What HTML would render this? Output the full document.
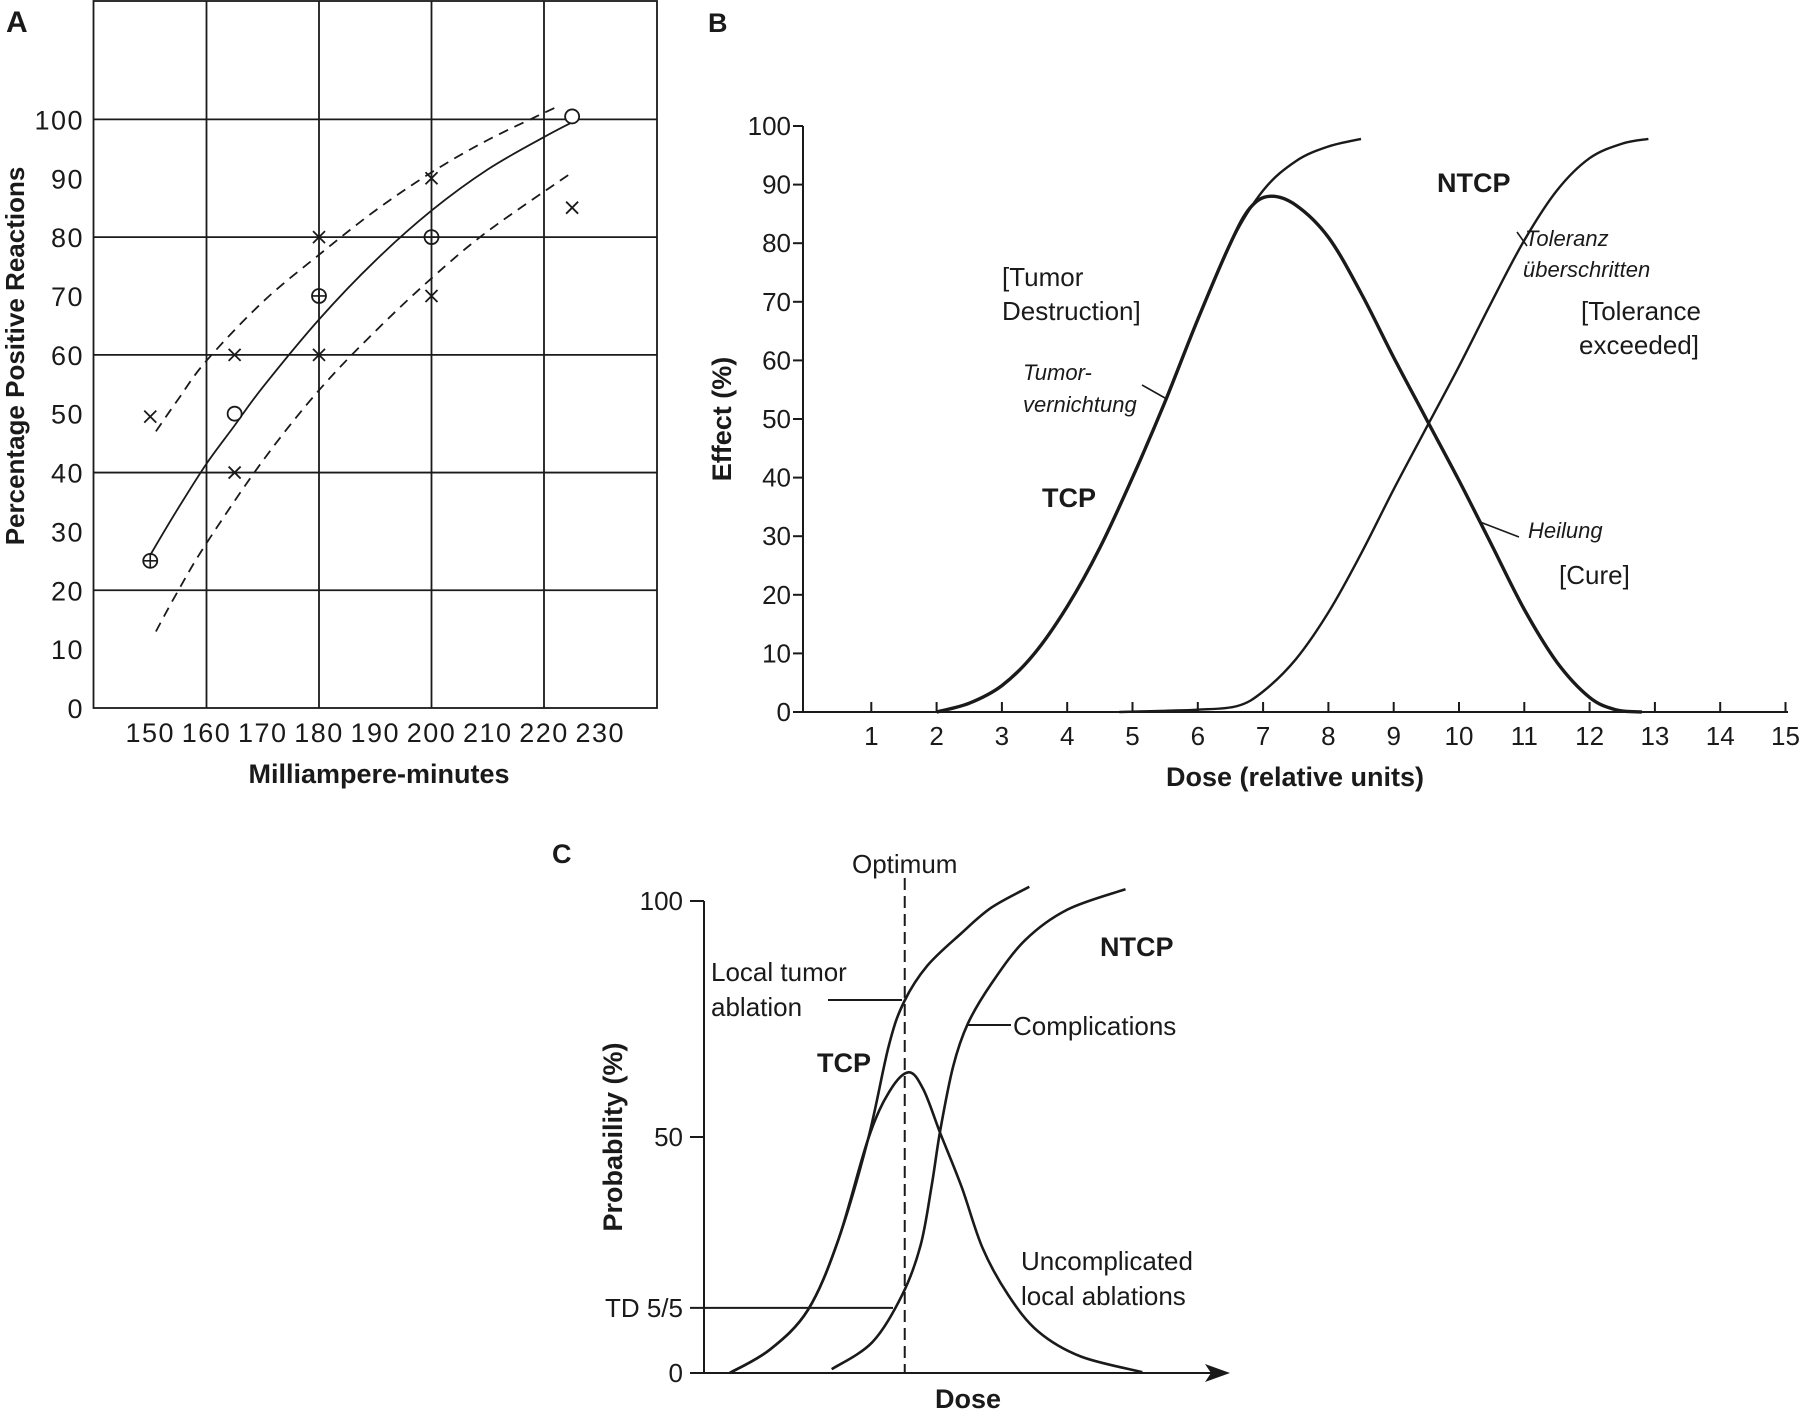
<!DOCTYPE html>
<html><head><meta charset="utf-8"><style>
html,body{margin:0;padding:0;background:#fff;}
svg{display:block;}
text{fill:#1a1a1a;}
.a{font-family:"Liberation Sans",sans-serif;font-size:27px;letter-spacing:1.5px;}
.n{font-family:"Liberation Sans Narrow","Liberation Sans",sans-serif;font-size:26px;}
.nb{font-family:"Liberation Sans Narrow","Liberation Sans",sans-serif;font-size:27px;font-weight:bold;}
.it{font-family:"Liberation Sans Narrow","Liberation Sans",sans-serif;font-size:22px;font-style:italic;}
.b{font-family:"Liberation Sans",sans-serif;font-weight:bold;}
</style></head><body>
<svg id="fig" width="1800" height="1410" viewBox="0 0 1800 1410" xmlns="http://www.w3.org/2000/svg">
<g id="pa"></g>
<g id="pb"></g>
<g id="pc"></g>
</svg>
<script>
// ---------- Panel A data ----------
const aXTicks = [150,160,170,180,190,200,210,220,230];
const aYTicks = [0,10,20,30,40,50,60,70,80,90,100];
const aCrossX = [150,165,165,180,180,200,200,225];
const aCrossY = [49.5,60,40,80,60,90,70,85];
const aPlusX = [150,180,200];
const aPlusY = [25,70,80];
const aCircX = [165,225];
const aCircY = [50,100.5];
const aFitX = [150,155,160,165,170,180,190,200,210,220,225];
const aFitY = [26,34,41.5,48,54.5,66,76,84.5,91.5,97,99.5];
const aUpX = [151,155,160,170,180,190,200,210,222];
const aUpY = [47,52.5,59,69,77,84.5,91,96.5,102];
const aLoX = [151,155,160,170,180,190,200,210,225];
const aLoY = [13,20,28,42,54,64,73,81,91];

// ---------- Panel B data ----------
const bXTicks = [1,2,3,4,5,6,7,8,9,10,11,12,13,14,15];
const bYTicks = [0,10,20,30,40,50,60,70,80,90,100];
const bTcpX = [2,2.5,3,3.5,4,4.5,5,5.5,6,6.5,7,7.5,8,8.5];
const bTcpY = [0,1.5,4.5,10,18,28,40,53,67,80,89,94,96.5,97.8];
const bNtcpX = [4.8,5.5,6,6.6,7,7.5,8,8.5,9,9.5,10,10.5,11,11.5,12,12.5,12.9];
const bNtcpY = [0,0.2,0.4,1,3.5,9,17,27,38,48.5,59,70,80.5,89,94.5,97,97.8];
const bCureX = [2,2.5,3,3.5,4,4.5,5,5.5,6,6.5,6.8,7.1,7.5,8,8.5,9,9.5,10,10.5,11,11.5,12,12.4,12.8];
const bCureY = [0,1.5,4.5,10,18,28,40,53,67,80,86,88,86.5,81,71.5,60.5,50,39.5,28.5,17.5,8.5,2.5,0.4,0];

// ---------- Panel C data (dose in arbitrary units 0..100) ----------
const cYTicks = [0,50,100];
const cYTickLabels = ["0","50","100"];
const cTd = 13.8;
const cOptimum = 38.2;
const cTcpX = [4.9,12.6,19.8,25.5,31.2,35.2,38.1,42.5,49,54.7,61.9];
const cTcpY = [0,5,13.4,28,49.5,69.5,78.7,86.3,93.2,98.6,103];
const cNtcpX = [24.3,32,37.7,41.2,43.3,44.9,47.4,50.2,54.7,61.1,69.2,80.2];
const cNtcpY = [0.8,6.5,16.5,27,39.5,51,64.9,74,82.5,91.7,98.2,102.5];
const cUncX = [4.9,12.6,19.8,25.5,31.2,35.2,38.9,41.7,44.9,49,53,57.9,63.6,71.7,83.4];
const cUncY = [0,5,13.4,28,49.5,59.5,63.7,60.2,51,39.5,26.5,16.5,8.8,3.5,0.2];

const NS = "http://www.w3.org/2000/svg";
function mk(parent, tag, attrs, txt){
  const e = document.createElementNS(NS, tag);
  for (const k in attrs) e.setAttribute(k, attrs[k]);
  if (txt !== undefined) e.textContent = txt;
  parent.appendChild(e);
  return e;
}
function smooth(xs, ys, fx, fy){
  const p = xs.map((x,i)=>[fx(x), fy(ys[i])]);
  let d = "M" + p[0][0].toFixed(1) + "," + p[0][1].toFixed(1);
  for (let i=0;i<p.length-1;i++){
    const p0=p[Math.max(i-1,0)], p1=p[i], p2=p[i+1], p3=p[Math.min(i+2,p.length-1)];
    const c1=[p1[0]+(p2[0]-p0[0])/6, p1[1]+(p2[1]-p0[1])/6];
    const c2=[p2[0]-(p3[0]-p1[0])/6, p2[1]-(p3[1]-p1[1])/6];
    d += " C"+c1[0].toFixed(1)+","+c1[1].toFixed(1)+" "+c2[0].toFixed(1)+","+c2[1].toFixed(1)+" "+p2[0].toFixed(1)+","+p2[1].toFixed(1);
  }
  return d;
}

// ================= PANEL A =================
(function(){
  const g = document.getElementById('pa');
  const ax = v => 206.5 + (v-160)*5.625;
  const ay = v => 708 - v*5.886;
  let t = mk(g,'text',{x:6,y:32,class:'b','font-size':30});
  t.textContent='A';
  
  
  let box = mk(g,'rect',{x:93.5,y:1,width:563.5,height:707,fill:'none',stroke:'#1a1a1a','stroke-width':1.8});
  
  
  [160,180,200,220].forEach(v=>{
    const l = mk(g,'line',{x1:ax(v),x2:ax(v),y1:1,y2:708,stroke:'#1a1a1a','stroke-width':1.8});
    
    
  });
  [20,40,60,80,100].forEach(v=>{
    const l = mk(g,'line',{x1:93.5,x2:657,y1:ay(v),y2:ay(v),stroke:'#1a1a1a','stroke-width':1.8});
    
    
  });
  aYTicks.forEach(v=>{
    const e = mk(g,'text',{x:84,y:ay(v)+10,class:'a','text-anchor':'end'}, String(v));
    
    
  });
  aXTicks.forEach(v=>{
    const e = mk(g,'text',{x:ax(v),y:742,class:'a','text-anchor':'middle'}, String(v));
    
    
  });
  let xt = mk(g,'text',{x:379,y:783,class:'b','font-size':27,'text-anchor':'middle'},'Milliampere-minutes');
  
  
  let yt = mk(g,'text',{x:0,y:0,class:'b','font-size':26,'text-anchor':'middle',transform:'translate(24,356) rotate(-90)'},'Percentage Positive Reactions');
  
  
  let fit = mk(g,'path',{d:smooth(aFitX,aFitY,ax,ay),fill:'none',stroke:'#1a1a1a','stroke-width':1.8});
  
  
  let up = mk(g,'path',{d:smooth(aUpX,aUpY,ax,ay),fill:'none',stroke:'#1a1a1a','stroke-width':1.8,'stroke-dasharray':'10 7'});
  
  
  let lo = mk(g,'path',{d:smooth(aLoX,aLoY,ax,ay),fill:'none',stroke:'#1a1a1a','stroke-width':1.8,'stroke-dasharray':'10 7'});
  
  
  aCrossX.forEach((v,i)=>{
    const x=ax(v), y=ay(aCrossY[i]), s=6;
    const p = mk(g,'path',{d:`M${x-s},${y-s}L${x+s},${y+s}M${x-s},${y+s}L${x+s},${y-s}`,stroke:'#1a1a1a','stroke-width':1.8});
    
    
  });
  aPlusX.forEach((v,i)=>{
    const x=ax(v), y=ay(aPlusY[i]), r=7;
    const p = mk(g,'path',{d:`M${x-r},${y}L${x+r},${y}M${x},${y-r}L${x},${y+r}`,stroke:'#1a1a1a','stroke-width':1.6});
    
    
    const c = mk(g,'circle',{cx:x,cy:y,r:r,fill:'none',stroke:'#1a1a1a','stroke-width':1.8});
    
    
  });
  aCircX.forEach((v,i)=>{
    const c = mk(g,'circle',{cx:ax(v),cy:ay(aCircY[i]),r:7,fill:'#fff',stroke:'#1a1a1a','stroke-width':1.8});
    
    
  });
})();

// ================= PANEL B =================
(function(){
  const g = document.getElementById('pb');
  const bx = v => 806 + v*65.3;
  const by = v => 712 - v*5.86;
  let t = mk(g,'text',{x:708,y:32,class:'nb','font-size':29},'B');
  
  
  let axx = mk(g,'line',{x1:803,x2:1788,y1:712,y2:712,stroke:'#1a1a1a','stroke-width':2});
  
  
  let axy = mk(g,'line',{x1:803,x2:803,y1:126,y2:712,stroke:'#1a1a1a','stroke-width':2});
  
  
  bXTicks.forEach(v=>{
    const l = mk(g,'line',{x1:bx(v),x2:bx(v),y1:702,y2:712,stroke:'#1a1a1a','stroke-width':2});
    
    
    const e = mk(g,'text',{x:bx(v),y:745,class:'n','text-anchor':'middle'},String(v));
    
    
  });
  bYTicks.forEach(v=>{
    const l = mk(g,'line',{x1:793,x2:803,y1:by(v),y2:by(v),stroke:'#1a1a1a','stroke-width':2});
    
    
    const e = mk(g,'text',{x:791,y:by(v)+9,class:'n','text-anchor':'end'},String(v));
    
    
  });
  let xt = mk(g,'text',{x:1295,y:786,class:'nb','text-anchor':'middle'},'Dose  (relative units)');
  
  
  let yt = mk(g,'text',{x:0,y:0,class:'nb','text-anchor':'middle',transform:'translate(731,419) rotate(-90)'},'Effect  (%)');
  
  
  let tcp = mk(g,'path',{d:smooth(bTcpX,bTcpY,bx,by),fill:'none',stroke:'#1a1a1a','stroke-width':2.4});
  
  
  let nt = mk(g,'path',{d:smooth(bNtcpX,bNtcpY,bx,by),fill:'none',stroke:'#1a1a1a','stroke-width':2.4});
  
  
  let cu = mk(g,'path',{d:smooth(bCureX,bCureY,bx,by),fill:'none',stroke:'#1a1a1a','stroke-width':3.4});
  
  
  const labels = [
    ['NTCP',1437,192,'nb','ntcp-label'],
    ['[Tumor',1002,286,'n','tumor-destruction-label'],
    ['Destruction]',1002,320,'n','tumor-destruction-label-2'],
    ['Tumor-',1023,380,'it','tumorvernichtung-label'],
    ['vernichtung',1023,412,'it','tumorvernichtung-label-2'],
    ['TCP',1042,507,'nb','tcp-label'],
    ['Toleranz',1525,246,'it','toleranz-label'],
    ['überschritten',1523,277,'it','toleranz-label-2'],
    ['[Tolerance',1581,320,'n','tolerance-exceeded-label'],
    ['exceeded]',1579,354,'n','tolerance-exceeded-label-2'],
    ['Heilung',1528,538,'it','heilung-label'],
    ['[Cure]',1559,584,'n','cure-label']
  ];
  labels.forEach(l=>{
    const e = mk(g,'text',{x:l[1],y:l[2],class:l[3]},l[0]);
    
    
  });
  [[1142,385,1165,398],[1517,232,1527,246],[1480,522,1519,537]].forEach(s=>{
    const l = mk(g,'line',{x1:s[0],y1:s[1],x2:s[2],y2:s[3],stroke:'#1a1a1a','stroke-width':1.6});
    
    
  });
})();

// ================= PANEL C =================
(function(){
  const g = document.getElementById('pc');
  const cx = v => 704 + v*5.255;
  const cy = v => 1373 - v*4.72;
  let t = mk(g,'text',{x:552,y:863,class:'nb','font-size':29},'C');
  
  
  let axy = mk(g,'line',{x1:704,x2:704,y1:cy(100),y2:cy(0),stroke:'#1a1a1a','stroke-width':2});
  
  
  let axx = mk(g,'line',{x1:690,x2:1215,y1:cy(0),y2:cy(0),stroke:'#1a1a1a','stroke-width':2});
  
  
  let arr = mk(g,'path',{d:`M1230,${cy(0)} L1205,${cy(0)-9} L1211,${cy(0)} L1205,${cy(0)+9} Z`,fill:'#1a1a1a'});
  
  
  cYTicks.forEach((v,i)=>{
    const l = mk(g,'line',{x1:690,x2:704,y1:cy(v),y2:cy(v),stroke:'#1a1a1a','stroke-width':2});
    
    
    const e = mk(g,'text',{x:683,y:cy(v)+9,class:'n','text-anchor':'end'},cYTickLabels[i]);
    
    
  });
  let td = mk(g,'text',{x:683,y:cy(cTd)+9,class:'n','text-anchor':'end'},'TD 5/5');
  
  
  let tdl = mk(g,'line',{x1:690,x2:893,y1:cy(cTd),y2:cy(cTd),stroke:'#1a1a1a','stroke-width':2});
  
  
  let opt = mk(g,'line',{x1:cx(cOptimum),x2:cx(cOptimum),y1:878,y2:cy(0),stroke:'#1a1a1a','stroke-width':2,'stroke-dasharray':'12 6'});
  
  
  let ot = mk(g,'text',{x:cx(cOptimum),y:873,class:'n','text-anchor':'middle'},'Optimum');
  
  
  let tcp = mk(g,'path',{d:smooth(cTcpX,cTcpY,cx,cy),fill:'none',stroke:'#1a1a1a','stroke-width':2.6});
  
  
  let nt = mk(g,'path',{d:smooth(cNtcpX,cNtcpY,cx,cy),fill:'none',stroke:'#1a1a1a','stroke-width':2.6});
  
  
  let un = mk(g,'path',{d:smooth(cUncX,cUncY,cx,cy),fill:'none',stroke:'#1a1a1a','stroke-width':2.6});
  
  
  const labels = [
    ['Local tumor',711,981,'n','local-tumor-ablation-label'],
    ['ablation',711,1016,'n','local-tumor-ablation-label-2'],
    ['TCP',817,1072,'nb','tcp-label'],
    ['NTCP',1100,956,'nb','ntcp-label'],
    ['Complications',1013,1035,'n','complications-label'],
    ['Uncomplicated',1021,1270,'n','uncomplicated-label'],
    ['local ablations',1021,1305,'n','uncomplicated-label-2']
  ];
  labels.forEach(l=>{
    const e = mk(g,'text',{x:l[1],y:l[2],class:l[3]},l[0]);
    
    
  });
  [[828,1000,902,1000],[968,1025,1011,1025]].forEach(s=>{
    const l = mk(g,'line',{x1:s[0],y1:s[1],x2:s[2],y2:s[3],stroke:'#1a1a1a','stroke-width':2});
    
    
  });
  let yt = mk(g,'text',{x:0,y:0,class:'nb','text-anchor':'middle',transform:'translate(622,1137) rotate(-90)'},'Probability (%)');
  
  
  let xt = mk(g,'text',{x:968,y:1408,class:'nb','text-anchor':'middle'},'Dose');
  
  
})();
</script>
</body></html>
